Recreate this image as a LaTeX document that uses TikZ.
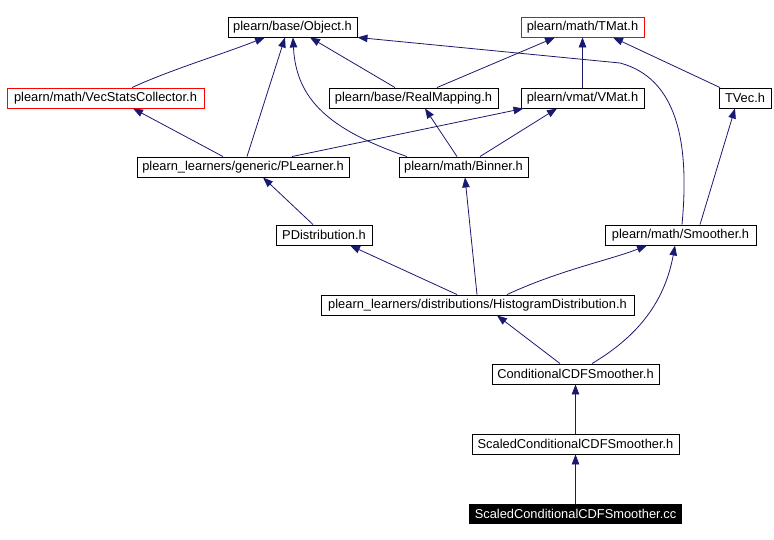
\documentclass[tikz,border=0pt]{standalone}
\usepackage{fontspec}
\setmainfont{Liberation Sans}
\usetikzlibrary{arrows.meta}
\definecolor{edgeblue}{HTML}{191970}
\tikzset{
  box/.style={draw=black, line width=0.9bp, inner sep=0pt, minimum height=20bp, anchor=center, font=\fontsize{12.9}{14}\selectfont},
  redbox/.style={box, draw=red},
  blackbox/.style={box, fill=black, text=white},
  edge/.style={draw=edgeblue, line width=0.8bp, -{Triangle[length=10bp,width=7.5bp]}}
}
\begin{document}
\begin{tikzpicture}[x=1bp,y=-1bp]
\useasboundingbox (0,0) rectangle (774,540);
\node[box, minimum width=129bp] (obj) at (292.5,27) {plearn/base/Object.h};
\node[redbox, minimum width=123bp] (tmat) at (582.5,27) {plearn/math/TMat.h};
\node[redbox, minimum width=197bp] (vsc) at (105.5,98) {plearn/math/VecStatsCollector.h};
\node[box, minimum width=169bp] (rmap) at (413.5,98) {plearn/base/RealMapping.h};
\node[box, minimum width=123bp] (vmat) at (582.5,98) {plearn/vmat/VMat.h};
\node[box, minimum width=52bp] (tvec) at (745,98) {TVec.h};
\node[box, minimum width=212bp] (plearner) at (243,167) {plearn\_learners/generic/PLearner.h};
\node[box, minimum width=129bp] (binner) at (463.5,167) {plearn/math/Binner.h};
\node[box, minimum width=96bp] (pdist) at (324,235) {PDistribution.h};
\node[box, minimum width=151bp] (smoother) at (680.5,235) {plearn/math/Smoother.h};
\node[box, minimum width=313bp] (hist) at (477.5,305) {plearn\_learners/distributions/HistogramDistribution.h};
\node[box, minimum width=167bp] (cond) at (575.5,374) {ConditionalCDFSmoother.h};
\node[box, minimum width=207bp] (scaled) at (575.5,444) {ScaledConditionalCDFSmoother.h};
\node[blackbox, minimum width=212bp, minimum height=19bp] (cc) at (575.5,513.5) {ScaledConditionalCDFSmoother.cc};

\draw[edge] ([xshift=26.5bp]vsc.north) .. controls (170,70) and (220,55) .. ([xshift=-27.5bp]obj.south);
\draw[edge] ([xshift=-20bp]plearner.north) -- ([xshift=27.5bp]vsc.south);
\draw[edge] ([xshift=4bp]plearner.north) -- ([xshift=-7.5bp]obj.south);
\draw[edge] ([xshift=-56.5bp]binner.north) .. controls (330,130) and (296,100) .. ([xshift=0.5bp]obj.south);
\draw[edge] ([xshift=-18.5bp]rmap.north) -- ([xshift=17.5bp]obj.south);
\draw[edge] ([xshift=1.5bp]smoother.north) .. controls (690,140) and (676,78) .. (620,63) -- (obj.south east);
\draw[edge] ([xshift=23.5bp]rmap.north) -- ([xshift=-27.5bp]tmat.south);
\draw[edge] (vmat.north) -- (tmat.south);
\draw[edge] ([xshift=-25bp]tvec.north) -- ([xshift=30.5bp]tmat.south);
\draw[edge] ([xshift=49bp]plearner.north) -- ([xshift=-59bp]vmat.south);
\draw[edge] ([xshift=16.5bp]binner.north) -- ([xshift=-25.5bp]vmat.south);
\draw[edge] ([xshift=-6.5bp]binner.north) -- ([xshift=11.5bp]rmap.south);
\draw[edge] ([xshift=19.5bp]smoother.north) -- ([xshift=-10bp]tvec.south);
\draw[edge] ([xshift=-11bp]pdist.north) -- ([xshift=20bp]plearner.south);
\draw[edge] ([xshift=-20.5bp]hist.north) -- ([xshift=26bp]pdist.south);
\draw[edge] ([xshift=-0.5bp]hist.north) -- ([xshift=1.5bp]binner.south);
\draw[edge] ([xshift=29.5bp]hist.north) .. controls (560,270) and (610,260) .. ([xshift=-33.5bp]smoother.south);
\draw[edge] ([xshift=-15.5bp]cond.north) -- ([xshift=19.5bp]hist.south);
\draw[edge] ([xshift=16.5bp]cond.north) .. controls (640,335) and (665,300) .. ([xshift=-5.5bp]smoother.south);
\draw[edge] (scaled.north) -- (cond.south);
\draw[edge] (cc.north) -- (scaled.south);
\end{tikzpicture}
\end{document}
